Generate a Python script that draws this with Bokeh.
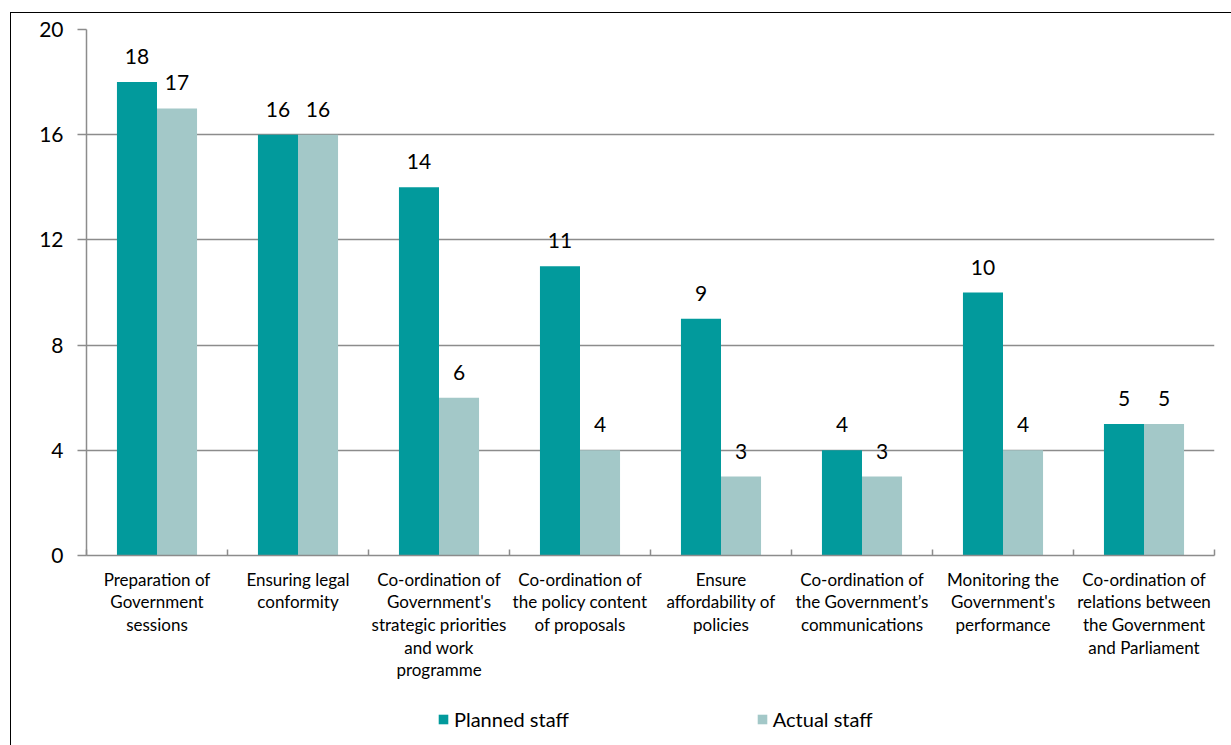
from bokeh.plotting import figure
from bokeh.models import (ColumnDataSource, Range1d, FixedTicker, LabelSet, Legend, LegendItem)
from bokeh.layouts import column
from bokeh.core.properties import value
from bokeh.embed import file_html
from bokeh.resources import INLINE

categories = [
    "Preparation of\nGovernment\nsessions",
    "Ensuring legal\nconformity",
    "Co-ordination of\nGovernment's\nstrategic priorities\nand work\nprogramme",
    "Co-ordination of\nthe policy content\nof proposals",
    "Ensure\naffordability of\npolicies",
    "Co-ordination of\nthe Government\u2019s\ncommunications",
    "Monitoring the\nGovernment's\nperformance",
    "Co-ordination of\nrelations between\nthe Government\nand Parliament",
]
planned = [18, 16, 14, 11, 9, 4, 10, 5]
actual = [17, 16, 6, 4, 3, 3, 4, 5]
y_ticks = [0, 4, 8, 12, 16, 20]
series_names = ["Planned staff", "Actual staff"]

PLANNED_COLOR = "#029a9c"
ACTUAL_COLOR = "#a3c8c8"
GRID_COLOR = "#8c8c8c"
FONT = "Lato"

n = len(categories)
bw = 0.284
idx = list(range(n))

src_p = ColumnDataSource(dict(x=[i - bw / 2 for i in idx], top=planned,
                              lab=[str(v) for v in planned]))
src_a = ColumnDataSource(dict(x=[i + bw / 2 for i in idx], top=actual,
                              lab=[str(v) for v in actual]))

p = figure(width=1220, height=680,
           x_range=Range1d(-0.5, n - 0.5), y_range=Range1d(0, 20),
           output_backend="svg", toolbar_location=None,
           min_border_left=75, min_border_right=17,
           min_border_top=16, min_border_bottom=138)
p.outline_line_color = None
p.background_fill_color = "white"
p.border_fill_color = "white"

# grid
p.xgrid.grid_line_color = None
p.ygrid.ticker = FixedTicker(ticks=y_ticks)
p.ygrid.grid_line_color = GRID_COLOR
p.ygrid.grid_line_width = 1.5

# bars
rp = p.vbar(x="x", top="top", width=bw, bottom=0, source=src_p,
            fill_color=PLANNED_COLOR, line_color=None)
ra = p.vbar(x="x", top="top", width=bw, bottom=0, source=src_a,
            fill_color=ACTUAL_COLOR, line_color=None)

# value labels
for src in (src_p, src_a):
    p.add_layout(LabelSet(x="x", y="top", text="lab", source=src,
                          text_align="center", text_baseline="alphabetic",
                          y_offset=18, text_font=value(FONT),
                          text_font_size=value("21px"),
                          text_color="black"))

# y axis
ya = p.yaxis[0]
ya.ticker = FixedTicker(ticks=y_ticks)
ya.minor_tick_line_color = None
ya.major_tick_in = 0
ya.major_tick_out = 9
ya.major_tick_line_color = GRID_COLOR
ya.major_tick_line_width = 1.5
ya.axis_line_color = GRID_COLOR
ya.axis_line_width = 1.5
ya.major_label_text_font = FONT
ya.major_label_text_font_size = "21px"
ya.major_label_text_color = "black"
ya.major_label_standoff = 14

# x axis
xa = p.xaxis[0]
xa.ticker = FixedTicker(ticks=idx, minor_ticks=[i - 0.5 for i in range(n + 1)])
xa.major_label_overrides = {i: categories[i] for i in idx}
xa.major_tick_line_color = None
xa.minor_tick_in = 6
xa.minor_tick_out = 0
xa.minor_tick_line_color = GRID_COLOR
xa.minor_tick_line_width = 1.5
xa.axis_line_color = GRID_COLOR
xa.axis_line_width = 1.5
xa.major_label_text_font = FONT
xa.major_label_text_font_size = "17px"
xa.major_label_text_color = "black"
xa.major_label_text_line_height = 1.08
xa.major_label_standoff = 7

# legend strip: zero-height proxy bars carry the series colours for the legend
lf = figure(width=1220, height=52, x_range=Range1d(0, 1), y_range=Range1d(0, 1),
            output_backend="svg", toolbar_location=None,
            x_axis_type=None, y_axis_type=None,
            min_border_left=0, min_border_right=0,
            min_border_top=0, min_border_bottom=0)
lf.outline_line_color = None
lf.xgrid.grid_line_color = None
lf.ygrid.grid_line_color = None
lp = lf.vbar(x=[0.5], top=[0], bottom=[0], width=0.0,
             fill_color=PLANNED_COLOR, line_color=None)
la = lf.vbar(x=[0.5], top=[0], bottom=[0], width=0.0,
             fill_color=ACTUAL_COLOR, line_color=None)
legend = Legend(items=[LegendItem(label=series_names[0], renderers=[lp]),
                       LegendItem(label=series_names[1], renderers=[la])],
                orientation="horizontal", location=(351, 14),
                glyph_width=12, glyph_height=12, label_standoff=5,
                spacing=187, padding=0, margin=0,
                label_text_font=FONT, label_text_font_size="20px",
                label_text_color="black", border_line_color=None,
                background_fill_alpha=0)
lf.add_layout(legend, "center")

layout = column(p, lf, spacing=0, margin=(12, 0, 0, 10),
                styles={"border-left": "1px solid #000", "border-top": "1px solid #000"})

open("out.html", "w").write(file_html(layout, INLINE))
